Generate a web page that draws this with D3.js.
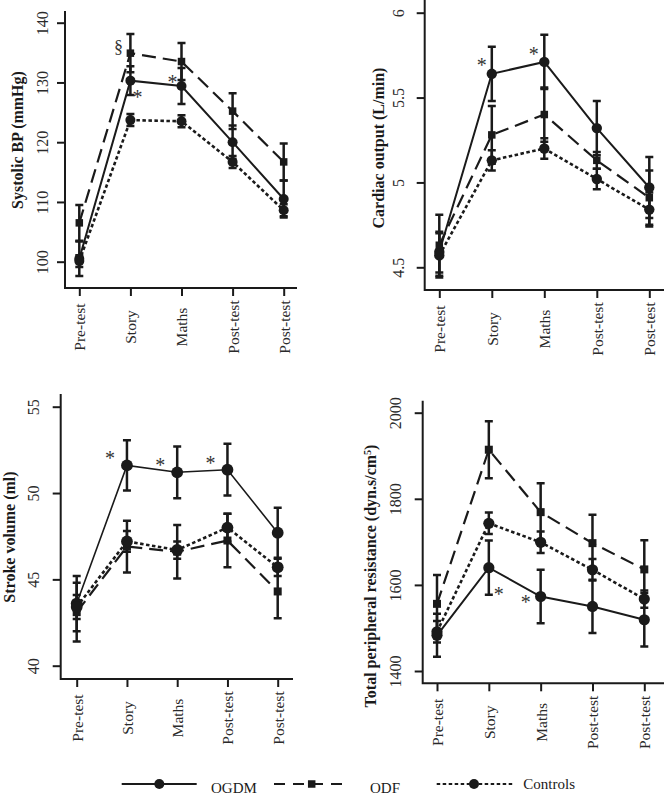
<!DOCTYPE html>
<html>
<head>
<meta charset="utf-8">
<script src="https://cdn.jsdelivr.net/npm/d3@7"></script>
<style>
  html, body { margin: 0; padding: 0; background: #fff; }
  svg { display: block; font-family: "Liberation Serif", "Times New Roman", serif; }
</style>
</head>
<body>
<svg id="chart" width="664" height="797"></svg>
<script>
// ---------------- DATA ----------------
const categories = ["Pre-test", "Story", "Maths", "Post-test", "Post-test"];
const groups = ["OGDM", "ODF", "Controls"];

// Systolic BP (mmHg)
const sbpTicks = [100, 110, 120, 130, 140];
const sbpOGDM = [100.5, 130.3, 129.4, 120.0, 110.5];
const sbpOGDMErr = [2.9, 2.4, 3.0, 2.8, 3.1];
const sbpODF = [106.5, 134.9, 133.5, 125.2, 116.7];
const sbpODFErr = [3.0, 3.2, 3.1, 3.0, 3.1];
const sbpCtrl = [100.1, 123.7, 123.5, 116.7, 108.6];
const sbpCtrlErr = [1.0, 1.0, 1.0, 1.0, 1.0];
const sbpNotes = [["§", "ODF", 1], ["*", "OGDM", 1], ["*", "OGDM", 2]];

// Cardiac output (L/min)
const coTicks = [4.5, 5, 5.5, 6];
const coOGDM = [4.59, 5.64, 5.71, 5.32, 4.97];
const coOGDMErr = [0.12, 0.16, 0.16, 0.16, 0.18];
const coODF = [4.63, 5.28, 5.40, 5.13, 4.91];
const coODFErr = [0.18, 0.17, 0.16, 0.05, 0.16];
const coCtrl = [4.57, 5.13, 5.20, 5.02, 4.84];
const coCtrlErr = [0.13, 0.06, 0.06, 0.06, 0.10];
const coNotes = [["*", "OGDM", 1], ["*", "OGDM", 2]];

// Stroke volume (ml)
const svTicks = [40, 45, 50, 55];
const svOGDM = [43.6, 51.6, 51.2, 51.35, 47.7];
const svOGDMErr = [1.6, 1.45, 1.5, 1.5, 1.45];
const svODF = [43.1, 46.9, 46.6, 47.25, 44.3];
const svODFErr = [1.7, 1.5, 1.55, 1.55, 1.55];
const svCtrl = [43.4, 47.2, 46.7, 48.0, 45.7];
const svCtrlErr = [0.7, 0.6, 0.5, 0.8, 0.5];
const svNotes = [["*", "OGDM", 1], ["*", "OGDM", 2], ["*", "OGDM", 3]];

// Total peripheral resistance (dyn.s/cm5)
const tprTicks = [1400, 1600, 1800, 2000];
const tprOGDM = [1483, 1640, 1573, 1550, 1519];
const tprOGDMErr = [50, 63, 62, 62, 62];
const tprODF = [1556, 1914, 1769, 1697, 1636];
const tprODFErr = [67, 66, 67, 66, 68];
const tprCtrl = [1491, 1743, 1699, 1635, 1567];
const tprCtrlErr = [25, 25, 25, 25, 20];
const tprNotes = [["*", "OGDM", 1], ["*", "OGDM", 2]];

// ---------------- STYLES / LAYOUT ----------------
const INK = "#1a1a1a";
const style = {
  OGDM:     { dash: null,      marker: "circle", width: 2.0 },
  ODF:      { dash: "14,7",    marker: "square", width: 2.2 },
  Controls: { dash: "3.5,2.5", marker: "circle", width: 2.6 }
};

const panels = [
  {
    title: [{t: "Systolic BP (mmHg)"}], ticks: sbpTicks, domain: [100, 140],
    series: { OGDM: [sbpOGDM, sbpOGDMErr], ODF: [sbpODF, sbpODFErr], Controls: [sbpCtrl, sbpCtrlErr] },
    notes: sbpNotes, noteOffsets: [[-12, -5], [7, 14], [-9, -6]],
    L: { ax: 65, top: 11, bottom: 288, right: 297, x0: 79.3, x1: 283.7, y0: 261.7, y1: 22.7,
         tickLabelX: 42, titleX: 17, titleY: 140, r: 5, sq: 7.5, solidW: 2 }
  },
  {
    title: [{t: "Cardiac output (L/min)"}], ticks: coTicks, domain: [4.5, 6],
    series: { OGDM: [coOGDM, coOGDMErr], ODF: [coODF, coODFErr], Controls: [coCtrl, coCtrlErr] },
    notes: coNotes, noteOffsets: [[-10, -11], [-10.5, -10]],
    L: { ax: 424.7, top: 0, bottom: 290, right: 664, x0: 439.3, x1: 649.3, y0: 267.3, y1: 12.7,
         tickLabelX: 398.7, titleX: 378.7, titleY: 148, r: 5.2, sq: 7.5, solidW: 2 }
  },
  {
    title: [{t: "Stroke volume (ml)"}], ticks: svTicks, domain: [40, 55],
    series: { OGDM: [svOGDM, svOGDMErr], ODF: [svODF, svODFErr], Controls: [svCtrl, svCtrlErr] },
    notes: svNotes, noteOffsets: [[-17, -9], [-17, -9], [-17, -9]],
    L: { ax: 60.7, top: 394, bottom: 679, right: 293, x0: 76.7, x1: 277.7, y0: 665.7, y1: 406.7,
         tickLabelX: 33.3, titleX: 9, titleY: 537, r: 5.9, sq: 8, solidW: 1.6 }
  },
  {
    title: [{t: "Total peripheral resistance (dyn.s/cm"}, {t: "5", sup: true}, {t: ")"}],
    ticks: tprTicks, domain: [1400, 2000],
    series: { OGDM: [tprOGDM, tprOGDMErr], ODF: [tprODF, tprODFErr], Controls: [tprCtrl, tprCtrlErr] },
    notes: tprNotes, noteOffsets: [[10, 24], [-15, 3]],
    L: { ax: 422.7, top: 400.7, bottom: 683.3, right: 664, x0: 437, x1: 644.3, y0: 671, y1: 412.7,
         tickLabelX: 395.3, titleX: 370.3, titleY: 576, r: 5.6, sq: 8, solidW: 2 }
  }
];

const svg = d3.select("#chart");

function drawMarker(sel, kind, cx, cy, r, sq) {
  if (kind === "circle") {
    sel.append("circle").attr("cx", cx).attr("cy", cy).attr("r", r).attr("fill", INK);
  } else {
    sel.append("rect").attr("x", cx - sq / 2).attr("y", cy - sq / 2)
      .attr("width", sq).attr("height", sq).attr("fill", INK);
  }
}

panels.forEach(p => {
  const L = p.L;
  const x = d3.scalePoint().domain(d3.range(categories.length)).range([L.x0, L.x1]);
  const y = d3.scaleLinear().domain(p.domain).range([L.y0, L.y1]);
  const g = svg.append("g");

  // Y axis
  const ya = g.append("g").attr("transform", `translate(${L.ax},0)`)
    .call(d3.axisLeft(y).tickValues(p.ticks).tickSize(8).tickFormat(d => String(d)));
  ya.select(".domain").remove();
  ya.selectAll(".tick line").attr("stroke", INK).attr("stroke-width", 2);
  ya.selectAll(".tick text")
    .attr("x", null).attr("dy", "0.35em")
    .attr("transform", `translate(${L.tickLabelX - L.ax},0) rotate(-90)`)
    .attr("text-anchor", "middle")
    .attr("font-family", "Liberation Serif").attr("font-size", 16).attr("fill", "#2a2a2a");

  // X axis
  const xa = g.append("g").attr("transform", `translate(0,${L.bottom})`)
    .call(d3.axisBottom(x).tickSize(8).tickFormat(i => categories[i]));
  xa.select(".domain").remove();
  xa.selectAll(".tick line").attr("stroke", INK).attr("stroke-width", 2);
  xa.selectAll(".tick text")
    .attr("y", null).attr("dy", "0.35em")
    .attr("transform", "translate(0,39) rotate(-90)")
    .attr("text-anchor", "middle")
    .attr("font-family", "Liberation Serif").attr("font-size", 15.5).attr("fill", "#2a2a2a");

  // axis lines (L shape)
  g.append("path")
    .attr("d", `M${L.ax},${L.top}V${L.bottom}H${L.right}`)
    .attr("fill", "none").attr("stroke", INK).attr("stroke-width", 2);

  // Y title
  const tt = g.append("text")
    .attr("transform", `translate(${L.titleX},${L.titleY}) rotate(-90)`)
    .attr("dy", "0.35em").attr("text-anchor", "middle")
    .attr("font-family", "Liberation Serif").attr("font-weight", "bold")
    .attr("font-size", 16).attr("fill", INK);
  p.title.forEach(part => {
    const ts = tt.append("tspan").text(part.t);
    if (part.sup) ts.attr("baseline-shift", "super").attr("font-size", 10);
  });

  // error bars
  groups.forEach(grp => {
    const [vals, errs] = p.series[grp];
    const eg = g.append("g").attr("stroke", INK).attr("stroke-width", 2.5).attr("fill", "none");
    vals.forEach((v, i) => {
      const cx = x(i), yt = y(v + errs[i]), yb = y(v - errs[i]);
      eg.append("path")
        .attr("d", `M${cx},${yt}V${yb}M${cx - 4},${yt}H${cx + 4}M${cx - 4},${yb}H${cx + 4}`);
    });
  });

  // lines
  groups.forEach(grp => {
    const [vals] = p.series[grp];
    const st = style[grp];
    const line = d3.line().x((d, i) => x(i)).y(d => y(d));
    g.append("path").datum(vals).attr("d", line)
      .attr("fill", "none").attr("stroke", INK)
      .attr("stroke-width", grp === "OGDM" ? L.solidW : st.width)
      .attr("stroke-dasharray", st.dash);
  });

  // markers
  groups.forEach(grp => {
    const [vals] = p.series[grp];
    const mg = g.append("g");
    vals.forEach((v, i) => drawMarker(mg, style[grp].marker, x(i), y(v), L.r, L.sq));
  });

  // significance marks
  p.notes.forEach((n, k) => {
    const [sym, grp, idx] = n;
    const v = p.series[grp][0][idx];
    const [dx, dy] = p.noteOffsets[k];
    const star = sym === "*";
    g.append("text")
      .attr("x", x(idx) + dx)
      .attr("y", y(v) + dy + (star ? 9 : 5))
      .attr("text-anchor", "middle")
      .attr("font-family", "Liberation Serif").attr("font-size", star ? 20 : 18)
      .attr("fill", "#333333")
      .text(sym);
  });
});

// ---------------- LEGEND ----------------
const legendLayout = {
  OGDM:     { x0: 121.7, x1: 196.7, m: 159.3, tx: 211, dash: null },
  ODF:      { x0: 274,   x1: 349.3, m: 311.7, tx: 370, dash: "11,8" },
  Controls: { x0: 436.7, x1: 512.3, m: 474,   tx: 523.3, dash: "3.5,2.5" }
};
const ly = 784;
const lg = svg.append("g");
groups.forEach(grp => {
  const ll = legendLayout[grp];
  lg.append("line").attr("x1", ll.x0).attr("x2", ll.x1).attr("y1", ly).attr("y2", ly)
    .attr("stroke", INK).attr("stroke-width", 2).attr("stroke-dasharray", ll.dash);
  drawMarker(lg, style[grp].marker, ll.m, ly, 5, 7.5);
  lg.append("text").attr("x", ll.tx).attr("y", grp === "Controls" ? 789 : 793)
    .attr("font-family", "Liberation Serif").attr("font-size", 15).attr("fill", INK)
    .text(grp);
});
</script>
</body>
</html>
